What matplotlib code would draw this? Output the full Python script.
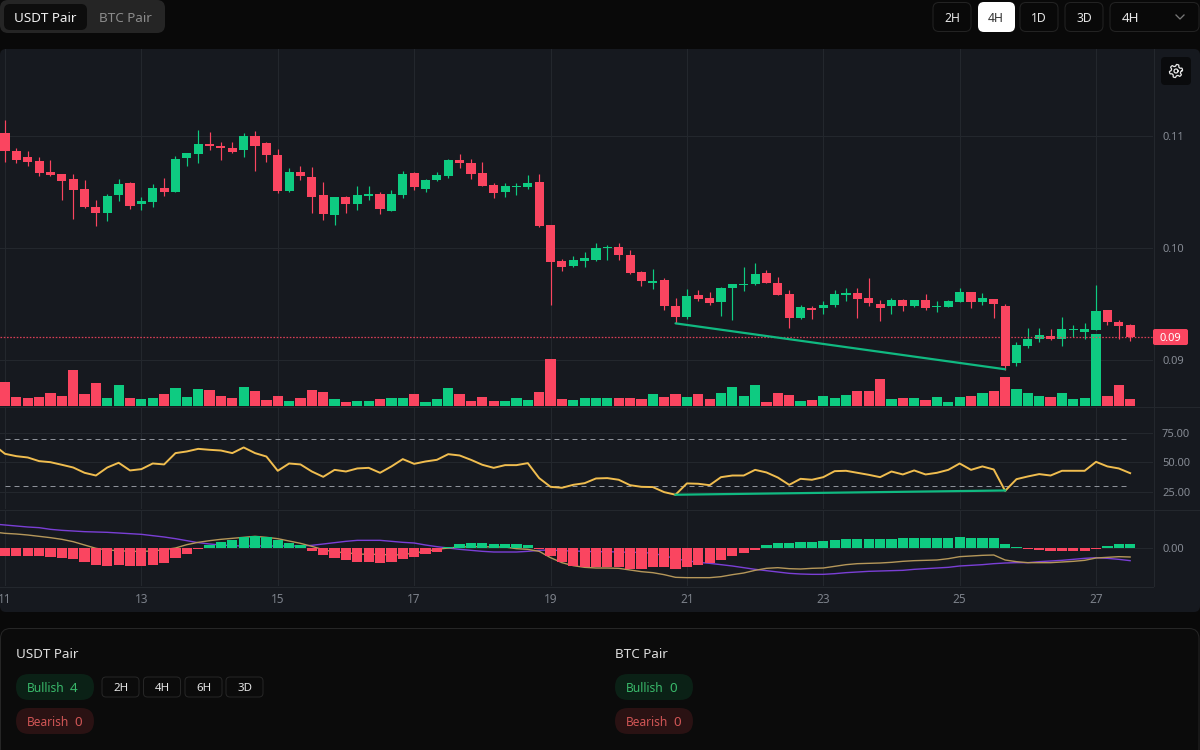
import numpy as np
import matplotlib
matplotlib.use("Agg")
import matplotlib.pyplot as plt
from matplotlib.patches import FancyBboxPatch

plt.rcParams['font.family'] = ['Noto Sans', 'DejaVu Sans']

opens = [.11032,.10866,.10815,.10780,.10681,.10663,.10616,.10529,.10369,.10315,
         .10473,.10580,.10399,.10417,.10539,.10506,.10809,.10845,.10931,.10913,
         .10899,.10878,.11000,.10940,.10833,.10515,.10681,.10640,.10473,.10297,
         .10455,.10399,.10464,.10488,.10336,.10473,.10672,.10533,.10613,.10649,
         .10788,.10765,.10672,.10562,.10506,.10547,.10547,.10589,.10211,.09884,
         .09845,.09886,.09892,.10002,.10008,.09943,.09785,.09693,.09714,.09487,
         .09389,.09583,.09553,.09517,.09642,.09669,.09684,.09782,.09687,.09592,
         .09374,.09470,.09467,.09491,.09583,.09598,.09556,.09506,.09485,.09535,
         .09485,.09538,.09473,.09476,.09524,.09607,.09518,.09544,.09488,.08979,
         .09131,.09190,.09220,.09190,.09270,.09256,.09273,.09446,.09339,.09312]
highs = [.11146,.10893,.10866,.10815,.10788,.10663,.10663,.10607,.10431,.10485,
         .10616,.10589,.10455,.10571,.10625,.10824,.10851,.11059,.11035,.10946,
         .10946,.11026,.11050,.10949,.10884,.10714,.10732,.10723,.10589,.10455,
         .10470,.10556,.10556,.10506,.10518,.10687,.10678,.10619,.10678,.10797,
         .10842,.10797,.10774,.10583,.10583,.10583,.10655,.10663,.10211,.09902,
         .09934,.09964,.10044,.10029,.10044,.09984,.09800,.09815,.09731,.09553,
         .09633,.09624,.09606,.09654,.09681,.09833,.09868,.09806,.09746,.09630,
         .09496,.09481,.09529,.09631,.09643,.09643,.09732,.09538,.09556,.09548,
         .09538,.09592,.09530,.09538,.09649,.09607,.09598,.09548,.09500,.09160,
         .09288,.09288,.09279,.09389,.09312,.09330,.09672,.09452,.09360,.09321]
lows = [.10774,.10759,.10732,.10649,.10645,.10431,.10262,.10360,.10202,.10244,
        .10422,.10354,.10345,.10369,.10470,.10503,.10732,.10765,.10875,.10788,
        .10854,.10818,.10690,.10774,.10497,.10506,.10607,.10315,.10253,.10211,
        .10315,.10345,.10431,.10306,.10333,.10446,.10524,.10503,.10604,.10631,
        .10714,.10622,.10556,.10446,.10455,.10479,.10530,.10193,.09491,.09800,
        .09833,.09836,.09889,.09892,.09892,.09773,.09666,.09639,.09449,.09336,
        .09371,.09532,.09496,.09395,.09357,.09615,.09675,.09687,.09583,.09291,
        .09368,.09371,.09416,.09479,.09533,.09381,.09485,.09354,.09414,.09440,
        .09473,.09449,.09431,.09473,.09518,.09464,.09497,.09381,.08913,.08952,
        .09113,.09163,.09184,.09131,.09211,.09190,.09270,.09315,.09190,.09172]
closes = [.10869,.10791,.10774,.10672,.10657,.10598,.10524,.10372,.10315,.10470,
          .10571,.10381,.10420,.10539,.10506,.10797,.10848,.10931,.10910,.10893,
          .10860,.11000,.10910,.10836,.10515,.10681,.10649,.10458,.10306,.10455,
          .10399,.10473,.10488,.10354,.10488,.10663,.10550,.10613,.10655,.10788,
          .10759,.10666,.10559,.10497,.10553,.10556,.10580,.10202,.09878,.09836,
          .09893,.09916,.09999,.10011,.09943,.09776,.09711,.09708,.09484,.09389,
          .09574,.09547,.09514,.09648,.09681,.09681,.09767,.09693,.09586,.09374,
          .09473,.09449,.09496,.09589,.09601,.09548,.09514,.09467,.09535,.09485,
          .09535,.09464,.09488,.09530,.09607,.09518,.09556,.09500,.08946,.09137,
          .09187,.09229,.09190,.09276,.09276,.09276,.09437,.09342,.09309,.09208]
volumes = [73,26,23,26,39,31,108,35,70,23,62,23,20,23,35,53,26,50,48,31,23,56,45,17,31,14,23,
           49,41,21,13,16,16,21,25,25,35,13,21,55,35,16,27,16,16,25,19,41,140,
           20,17,23,23,23,23,23,20,37,26,37,26,37,20,39,57,31,62,11,39,34,14,17,31,23,
           34,45,45,82,20,23,23,17,26,11,26,31,39,45,87,51,39,31,26,39,20,23,215,31,62,20]

# rsi, macd and signal start one bar before the first candle
rsi = [64.8,57.2,55.2,54.1,51.0,50.1,47.9,45.6,41.1,38.8,45.6,49.6,43.1,44.2,49.0,48.2,57.8,59.2,61.4,60.6,60.0,
       57.8,62.6,57.8,54.9,42.8,49.0,48.2,42.2,37.7,43.6,42.2,44.8,45.3,41.1,46.5,52.7,
       48.7,50.7,52.1,56.9,55.8,52.1,47.9,45.3,47.6,47.6,49.3,36.6,29.2,28.4,30.9,32.3,36.3,36.6,35.2,30.6,29.2,29.0,
       24.7,22.5,32.1,31.8,30.6,37.4,38.8,38.8,43.6,41.4,37.1,30.9,36.0,
       35.2,37.4,42.5,42.8,41.1,39.4,37.4,42.2,39.7,43.1,39.7,41.1,43.6,49.0,43.6,46.5,43.9,25.8,35.7,38.0,40.0,38.8,
       42.8,42.8,42.8,50.4,46.5,44.8,40.8]
macd_hist = [-23,-23,-23,-23,-27,-30,-32,-41,-49,-52,
             -49,-52,-52,-49,-44,-30,-16,-2,10,18,
             26,33,38,35,24,15,10,-7,-21,-30,
             -35,-41,-41,-44,-41,-32,-27,-18,-11,3,
             12,16,16,12,12,13,10,-1,-23,-42,
             -52,-57,-57,-57,-57,-63,-63,-57,-57,-61,
             -56,-49,-44,-35,-24,-15,-4,10,16,16,
             19,19,22,24,27,27,27,27,27,30,
             30,30,30,30,33,30,30,30,13,5,
             -1,-4,-7,-7,-7,-7,-1,7,13,13]
macd_signal = [73,70,67,64,62,57,54,52,50,49,48,46,44,42,38,34,29,23,17,13,10,8,7,7,7,7,7,7,9,13,17,21,24,24,24,21,18,
               16,10,5,1,-3,-6,-9,-11,-11,-11,-9,-6,-5,-7,-8,-9,-10,-10,-11,-12,-12,-15,-22,-31,-37,-42,-45,-49,-53,-58,-63,-67,-71,-75,-77,
               -78,-78,-76,-73,-71,-69,-68,-67,-66,-63,-61,-59,-57,-53,-51,-49,-46,-44,-43,-43,-40,-38,-36,-33,-30,-28,-30,-33,-37]
macd_line = [49,45,43,40,36,32,27,20,10,0,-5,-7,-9,-9,-8,-4,1,11,18,23,27,30,33,36,33,29,22,15,6,-4,-11,-13,-17,-18,-18,-20,-19,
             -14,-9,-3,1,4,5,5,4,4,-1,-3,-9,-28,-43,-52,-57,-59,-59,-60,-65,-70,-73,-79,-87,-88,-88,-88,-85,-79,-74,-66,-60,-58,-61,-62,
             -60,-59,-54,-49,-46,-45,-44,-42,-39,-37,-36,-35,-31,-25,-23,-21,-20,-35,-40,-43,-43,-43,-41,-39,-36,-29,-27,-25,-26]

day_ticks = [0, 12, 24, 36, 48, 60, 72, 84, 96]
day_labels = ['11', '13', '15', '17', '19', '21', '23', '25', '27']
price_ticks = [0.09, 0.10, 0.11]
rsi_ticks = [25, 50, 75]
div_price_x = [59, 88]
div_price_y = [0.09330, 0.08920]
div_rsi_x = [59, 88]
div_rsi_y = [22.5, 26.1]

BG = '#090909'
PANEL = '#16191f'
GRID = '#23272d'
RED = '#fa4560'
GREEN = '#0ecb81'
TICK = '#858a93'
W, H = 1200, 750
PX = 0.72  # one pixel of line width at dpi 100


def place(top, bottom):
    # axes rect from pixel rows, the chart column ends at x=1153
    return [0, 1 - bottom / H, 1153 / W, (bottom - top) / H]


def box(ax, x, y, w, h, face, edge='none', r=6, lw=PX):
    ax.add_patch(FancyBboxPatch((x, y), w, h, boxstyle=f'round,pad=0,rounding_size={r}',
                                fc=face, ec=edge, lw=lw))


fig = plt.figure(figsize=(12, 7.5), dpi=100, facecolor=BG)

ui = fig.add_axes([0, 0, 1, 1], zorder=0)
ui.set_xlim(0, W)
ui.set_ylim(H, 0)
ui.axis('off')

# chart background and pane separators
box(ui, 0, 49, 1200, 563, PANEL, r=6)
ui.plot([0, 1200], [406.5, 406.5], color=GRID, lw=PX)
ui.plot([0, 1200], [509.5, 509.5], color=GRID, lw=PX)
ui.plot([0, 1153], [586.5, 586.5], color=GRID, lw=PX)
ui.plot([1153.5, 1153.5], [49, 586], color=GRID, lw=PX)

# top left pair switch
box(ui, 0, 0, 165, 33, '#252525', r=8)
box(ui, 4, 4, 83, 26, '#0d0d0d', r=6)
ui.text(45, 17, 'USDT Pair', color='#f0f0f0', fontsize=9.7, ha='center', va='center_baseline')
ui.text(125, 17, 'BTC Pair', color='#8c8c8c', fontsize=9.7, ha='center', va='center_baseline')

# top right interval buttons
for x, w, lab in [(933, 38, '2H'), (1020, 38, '1D'), (1065, 38, '3D')]:
    box(ui, x, 2.5, w, 29, BG, '#232323', r=6)
    ui.text(x + w / 2, 17, lab, color='#e6e6e6', fontsize=8.8, ha='center', va='center_baseline')
box(ui, 978, 2, 37, 30, '#ffffff', r=6)
ui.text(996, 17, '4H', color='#333333', fontsize=8.8, ha='center', va='center_baseline')
box(ui, 1110, 2.5, 89, 29, BG, '#232323', r=6)
ui.text(1130, 17, '4H', color='#e6e6e6', fontsize=9.7, ha='center', va='center_baseline')
ui.plot([1176, 1180, 1184], [15, 19, 15], color='#777777', lw=PX * 1.3)

# bottom summary card
box(ui, 0.5, 628.5, 1198.5, 130, '#0b0b0b', '#262626', r=10)
for x, title, bull in [(16, 'USDT Pair', '4'), (615, 'BTC Pair', '0')]:
    ui.text(x, 653, title, color='#dedede', fontsize=9.7, va='center_baseline')
    box(ui, x, 674, 78, 26, '#0b2116', r=13)
    ui.text(x + 11, 686.5, 'Bullish', color='#39b86a', fontsize=8.6, va='center_baseline')
    ui.text(x + 58, 686.5, bull, color='#39b86a', fontsize=9.7, ha='center', va='center_baseline')
    box(ui, x, 708, 78, 26, '#2a1213', r=13)
    ui.text(x + 11, 720.5, 'Bearish', color='#cf5555', fontsize=8.6, va='center_baseline')
    ui.text(x + 62, 720.5, '0', color='#cf5555', fontsize=9.7, ha='center', va='center_baseline')
for x, lab in [(102, '2H'), (143.5, '4H'), (185, '6H'), (226, '3D')]:
    box(ui, x, 677, 37, 20, '#0b0b0b', '#262626', r=4)
    ui.text(x + 18.5, 687, lab, color='#e6e6e6', fontsize=8.3, ha='center', va='center_baseline')

o = np.array(opens)
c = np.array(closes)
idx = np.arange(len(o))
cols = [GREEN if up else RED for up in c >= o]
xlim = (-5 / 11.365, 1148 / 11.365)
price_lim = (0.08592, 0.11780)


def pane(top, bottom, ylim, z=2):
    ax = fig.add_axes(place(top, bottom), zorder=z, facecolor='none')
    ax.set_xlim(*xlim)
    ax.set_ylim(*ylim)
    for s in ax.spines.values():
        s.set_visible(False)
    ax.yaxis.tick_right()
    ax.set_xticks(day_ticks)
    ax.grid(True, color=GRID, lw=PX)
    ax.set_axisbelow(True)
    ax.tick_params(length=0, labelbottom=False, labelright=True, labelcolor=TICK, labelsize=8, pad=6.5)
    return ax


def marks_only(ax):
    ax.grid(False)
    ax.set_xticks([])
    ax.set_yticks([])


# price pane: grid and labels at the back, then volume, then candles
ax_g = pane(49, 406, price_lim, z=1)
ax_g.set_yticks(price_ticks)
ax_g.set_yticklabels([f'{t:.2f}' for t in price_ticks])

ax_v = pane(49, 406, (0, 1071), z=2)
marks_only(ax_v)
ax_v.bar(idx, volumes, width=0.9, color=cols, zorder=2)

ax_p = pane(49, 406, price_lim, z=3)
marks_only(ax_p)
ax_p.vlines(idx, lows, highs, colors=cols, lw=0.85, zorder=3)
ax_p.bar(idx, np.abs(c - o), bottom=np.minimum(o, c), width=0.8, color=cols, zorder=4)
dotted = ax_p.axhline(closes[-1], color=RED, lw=0.9, ls=(0, (1.3, 1.3)), zorder=5, alpha=0.85)
dotted.set_snap(True)
ax_p.plot(div_price_x, div_price_y, color='#10b981', lw=1.6, zorder=5, solid_capstyle='round')

# rsi pane
ax_r = pane(407, 509, (10.4, 96.9))
ax_r.set_yticks(rsi_ticks)
ax_r.set_yticklabels([f'{t:.2f}' for t in rsi_ticks])
ax_r.plot([0, 99], [70, 70], color='#8d9199', lw=PX, ls=(0, (5, 4)))
ax_r.plot([0, 99], [30, 30], color='#8d9199', lw=PX, ls=(0, (5, 4)))
ax_r.plot(np.arange(-1, 100), rsi, color='#f0bd4f', lw=1.4, solid_joinstyle='round')
ax_r.plot(div_rsi_x, div_rsi_y, color='#10b981', lw=1.6)

# macd pane, values in 1e-5
ax_m = pane(510, 586, (-113e-5, 115e-5))
ax_m.set_yticks([0])
ax_m.set_yticklabels(['0.00'])
ax_m.plot(np.arange(-1, 100), np.array(macd_signal) * 1e-5, color='#7a3fd6', lw=1, zorder=2)
ax_m.plot(np.arange(-1, 100), np.array(macd_line) * 1e-5, color='#b5975a', lw=1, zorder=2)
ax_m.bar(idx, np.array(macd_hist) * 1e-5, width=0.9,
         color=[GREEN if v >= 0 else RED for v in macd_hist], zorder=3)
ax_m.tick_params(labelbottom=True)
ax_m.set_xticklabels(day_labels, fontsize=8.5, fontweight='bold', color='#7c818a')
ax_m.tick_params(axis='x', pad=5)

# last price tag and settings button go on top
top = fig.add_axes([0, 0, 1, 1], zorder=5, facecolor='none')
top.set_xlim(0, W)
top.set_ylim(H, 0)
top.axis('off')
tag_y = H - ax_p.transData.transform((0, closes[-1]))[1]
box(top, 1153, tag_y - 8, 35, 16, RED, r=2)
top.text(1170.5, tag_y, f'{closes[-1]:.2f}', color='#ffffff', fontsize=8, ha='center', va='center_baseline')
box(top, 1161, 57, 30, 28, '#0a0b0d', r=4)

# gear icon outline
gear_t = np.linspace(0, 2 * np.pi, 181)
gear_r = 5.7 + 0.9 * np.clip(2.0 * np.cos(6 * gear_t + np.pi / 2), -1, 1)
top.plot(1176 + gear_r * np.cos(gear_t), 71 + gear_r * np.sin(gear_t), color='#e8e8e8', lw=0.9)
top.plot(1176 + 2.0 * np.cos(gear_t), 71 + 2.0 * np.sin(gear_t), color='#e8e8e8', lw=0.9)

fig.savefig('out.png', dpi=100, facecolor=BG)
